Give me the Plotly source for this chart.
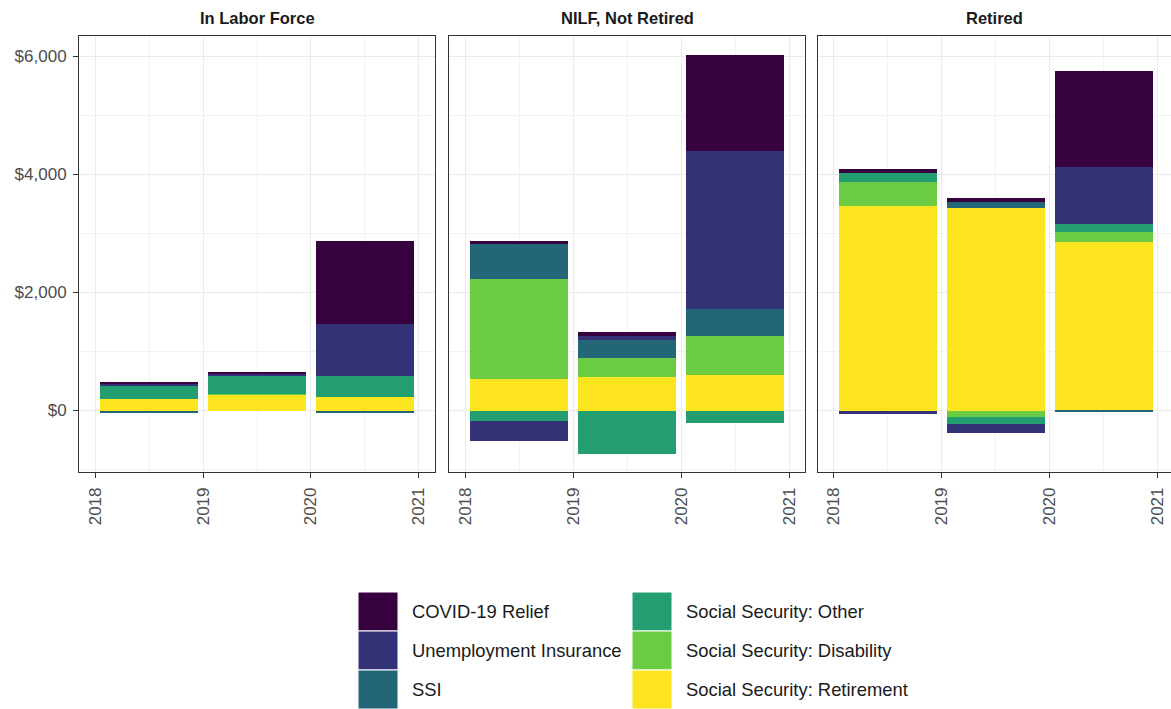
import plotly.graph_objects as go

# ---- data -------------------------------------------------------------
years = [2018, 2019, 2020]
year_ticks = [2018, 2019, 2020, 2021]
panels = ["In Labor Force", "NILF, Not Retired", "Retired"]

series = [
    "COVID-19 Relief",
    "Unemployment Insurance",
    "SSI",
    "Social Security: Other",
    "Social Security: Disability",
    "Social Security: Retirement",
]
colors = ["#37003F", "#343276", "#236677", "#229E70", "#6BCC44", "#FCE41F"]

# one list per panel, one value per year (dollars)
covid_relief = [[38, 35, 1412], [56, 62, 1627], [57, 57, 1627]]
unemployment_insurance = [[30, 33, 876], [-334, 68, 2672], [-64, -142, 966]]
ssi = [[-40, 0, -45], [588, 310, 458], [0, 112, -30]]
ss_other = [[225, 315, 351], [-178, -742, -217], [153, -119, 136]]
ss_disability = [[0, 10, 0], [1705, 322, 666], [407, -115, 174]]
ss_retirement = [[195, 265, 234], [529, 563, 602], [3471, 3427, 2851]]

values = [covid_relief, unemployment_insurance, ssi,
          ss_other, ss_disability, ss_retirement]

# ---- geometry -----------------------------------------------------------
W, H = 1171, 709
L, T = 79, 36
PW, PH = W - L, H - T          # plotting area in px
FONT = "Liberation Sans, Arial, Helvetica, sans-serif"
TXT = 17


def px_x(px):
    return (px - L) / PW


def px_y(py):
    return (H - py) / PH


x_domains = [
    [px_x(79), px_x(435)],
    [px_x(449.3), px_x(805.3)],
    [px_x(817.7), 1.0],
]
y_domain = [px_y(471.7), 1.0]
x_ranges = [[2017.85, 2021.15], [2017.85, 2021.15], [2017.85, 2021.122]]
y_range = [-1037, 6347]

fig = go.Figure()

# stacking order: retirement sits on zero, COVID relief on top
for p in range(len(panels)):
    xa = "x" if p == 0 else f"x{p + 1}"
    ya = "y" if p == 0 else f"y{p + 1}"
    for s in reversed(range(len(series))):
        fig.add_trace(go.Bar(
            x=years,
            y=values[s][p],
            name=series[s],
            marker=dict(color=colors[s], line=dict(width=0)),
            width=0.91,
            offset=0.045,
            xaxis=xa,
            yaxis=ya,
            showlegend=False,
            hovertemplate=series[s] + ": $%{y:,}<extra></extra>",
        ))

axis_common = dict(
    showline=True, linecolor="#333333", linewidth=1, mirror=True,
    showgrid=True, gridcolor="#EBEBEB", gridwidth=1, zeroline=False,
    ticks="outside", ticklen=5, tickwidth=1, tickcolor="#333333",
    ticklabelstandoff=3,
    tickfont=dict(size=TXT, color="#4D4D4D"),
)

layout_axes = {}
for p in range(len(panels)):
    k = "" if p == 0 else str(p + 1)
    layout_axes[f"xaxis{k}"] = dict(
        axis_common,
        domain=x_domains[p],
        range=x_ranges[p],
        anchor=f"y{k}",
        tickmode="array",
        tickvals=year_ticks,
        ticktext=[str(y) for y in year_ticks],
        tickangle=-90,
        minor=dict(tickvals=[y + 0.5 for y in year_ticks[:-1]],
                   showgrid=True, gridcolor="#F2F2F2", ticks=""),
    )
    layout_axes[f"yaxis{k}"] = dict(
        axis_common,
        domain=y_domain,
        range=y_range,
        anchor=f"x{k}",
        tickmode="linear",
        tick0=0,
        dtick=2000,
        tickprefix="$",
        tickformat=",d",
        showticklabels=(p == 0),
        ticks="outside" if p == 0 else "",
        minor=dict(tick0=1000, dtick=2000, showgrid=True,
                   gridcolor="#F2F2F2", ticks=""),
    )
    if p > 0:
        layout_axes[f"yaxis{k}"]["matches"] = "y"

fig.update_layout(
    width=W, height=H,
    margin=dict(l=L, r=0, t=T, b=0),
    barmode="relative",
    bargap=0,
    showlegend=False,
    plot_bgcolor="white",
    paper_bgcolor="white",
    font=dict(family=FONT, color="#4D4D4D", size=TXT),
    **layout_axes,
)

# facet titles
for p, title in enumerate(panels):
    k = "" if p == 0 else str(p + 1)
    fig.add_annotation(
        text=f"<b>{title}</b>",
        xref=f"x{k} domain", yref=f"y{k} domain",
        x=0.5, y=1, yanchor="middle", yshift=18, showarrow=False,
        font=dict(size=16.5, color="#1A1A1A"),
    )

# legend: two columns of three keys
key_cols = [(358, 398, 410), (632, 672, 684)]
key_top, key_h = 592, 39
for i, name in enumerate(series):
    col, row = divmod(i, 3)
    x0, x1, tx = key_cols[col]
    y0 = key_top + row * key_h
    fig.add_shape(
        type="rect", xref="paper", yref="paper",
        x0=px_x(x0), x1=px_x(x1), y0=px_y(y0), y1=px_y(y0 + key_h),
        fillcolor=colors[i], line=dict(color="#FFFFFF", width=1),
    )
    fig.add_annotation(
        text=name, xref="paper", yref="paper",
        x=px_x(tx), y=px_y(y0 + key_h / 2),
        xanchor="left", yanchor="middle", showarrow=False,
        font=dict(size=18.4, color="#1A1A1A"),
    )

fig.write_html("out.html")
